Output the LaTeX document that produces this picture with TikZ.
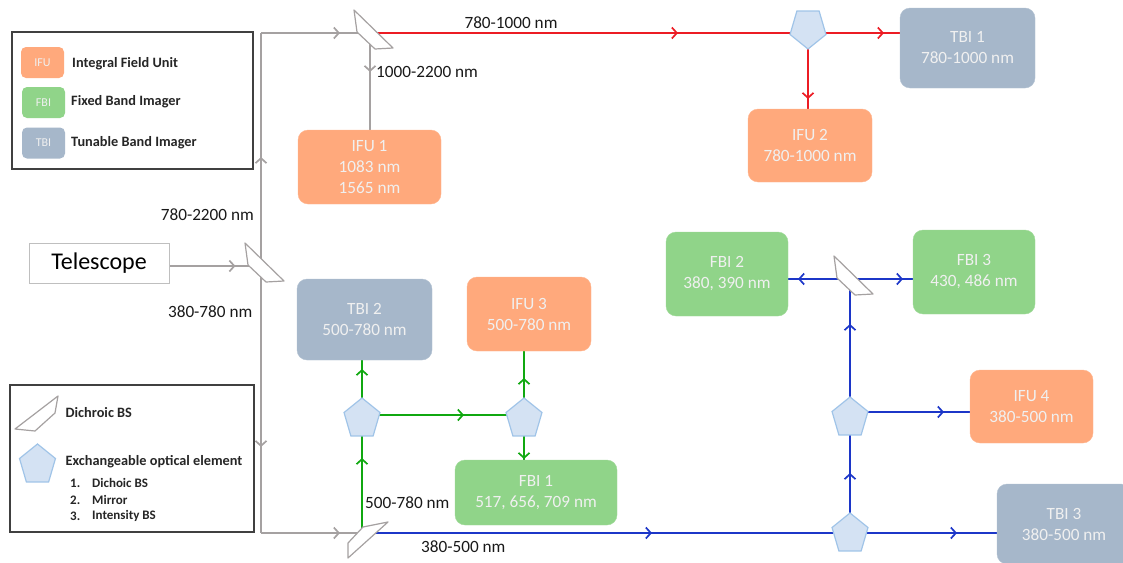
\documentclass[tikz,border=0pt]{standalone}
\usepackage{fontspec}
\setmainfont{Carlito}
\usepackage{xcolor}
\usetikzlibrary{shapes.geometric,arrows.meta,decorations.markings,backgrounds}

\definecolor{ifucol}{HTML}{FFA97C}
\definecolor{fbicol}{HTML}{90D489}
\definecolor{tbicol}{HTML}{A6B7CA}
\definecolor{eoecol}{HTML}{D4E2F3}
\definecolor{eoeline}{HTML}{A0C4E8}
\definecolor{raygray}{HTML}{A5A1A1}
\definecolor{rayred}{HTML}{EC1C24}
\definecolor{raygreen}{HTML}{10A810}
\definecolor{rayblue}{HTML}{1C36C8}
\definecolor{frame}{HTML}{404040}

\begin{document}
\begin{tikzpicture}[
    x=1pt, y=-1pt,
    box/.style={rectangle, rounded corners=10pt, inner sep=0pt, align=center, text=white!94!black,
        font=\fontsize{17.2}{21}\selectfont},
    ifu/.style={box, fill=ifucol, draw=ifucol!85!white},
    fbi/.style={box, fill=fbicol, draw=fbicol!85!white},
    tbi/.style={box, fill=tbicol, draw=tbicol!85!white},
    swatch/.style={rounded corners=5pt, inner sep=0pt, minimum width=43pt, minimum height=31pt,
        text=white!94!black, font=\fontsize{12}{14}\selectfont},
    eoe/.style={regular polygon, regular polygon sides=5, minimum size=42pt, inner sep=0pt,
        xscale=0.9, transform shape, fill=eoecol, draw=eoeline, line width=1.2pt},
    legendbox/.style={rectangle, draw=frame, line width=1.6pt, inner sep=0pt, fill=white},
    legendhead/.style={anchor=west, inner sep=0pt, text=black!85, font=\fontsize{14.3}{16}\bfseries\selectfont},
    legendtext/.style={anchor=west, inner sep=0pt, text=black!85, font=\fontsize{13}{15}\bfseries\selectfont},
    wave/.style={inner sep=0pt, text=black!90, font=\fontsize{17.2}{20}\selectfont},
    bsline/.style={draw=raygray, fill=white, line width=1.2pt, line join=round},
    ray/.style={line width=2pt},
    gray ray/.style={ray, color=raygray, line width=1.8pt},
    red ray/.style={ray, color=rayred},
    green ray/.style={ray, color=raygreen},
    blue ray/.style={ray, color=rayblue},
    tipat/.style={postaction={decorate}, decoration={markings,
        mark=at position #1pt with {\arrow[line width=1.7pt]{Straight Barb[length=5pt,width=11pt]}}}},
    pics/dichroic/.style={code={
        \draw[bsline] (-16,-23) -- (23,15) -- (5,16) -- (-13,-1) -- cycle;}},
]
    \clip (0,0) rectangle (1123,562);
    \useasboundingbox (0,0) rectangle (1123,562);

    % beam junctions
    \coordinate (bst) at (261,266);
    \coordinate (bsa) at (370,33);
    \coordinate (bsb) at (362,533);
    \coordinate (bsu) at (850,279);
    \coordinate (cu) at (261,33);
    \coordinate (cd) at (261,533);
    \coordinate (jr) at (808,33);
    \coordinate (jg1) at (362,415);
    \coordinate (jg2) at (524,415);
    \coordinate (ja) at (850,412);
    \coordinate (jb) at (850,533);

    % instruments
    \node[draw=black!25, line width=1pt, fill=white, minimum width=140pt, minimum height=40pt, inner sep=0pt,
        font=\fontsize{24}{28}\selectfont] (telescope) at (99,263) {\raisebox{-2pt}{Telescope}};
    \node[ifu, minimum width=143pt, minimum height=74pt] (ifu1) at (369.5,167) {IFU 1\\1083 nm\\1565 nm};
    \node[ifu, minimum width=124pt, minimum height=73pt] (ifu2) at (810,145.5) {IFU 2\\780-1000 nm};
    \node[ifu, minimum width=124pt, minimum height=74pt] (ifu3) at (529,314) {IFU 3\\500-780 nm};
    \node[ifu, minimum width=123pt, minimum height=73pt] (ifu4) at (1031.5,406.5) {IFU 4\\380-500 nm};
    \node[fbi, minimum width=162pt, minimum height=65pt] (fbi1) at (536,492.5) {FBI 1\\517, 656, 709 nm};
    \node[fbi, minimum width=122pt, minimum height=84pt] (fbi2) at (727,274) {FBI 2\\380, 390 nm};
    \node[fbi, minimum width=122pt, minimum height=84pt] (fbi3) at (974,272) {FBI 3\\430, 486 nm};
    \node[tbi, minimum width=135pt, minimum height=80pt] (tbi1) at (967.5,48) {TBI 1\\780-1000 nm};
    \node[tbi, minimum width=135pt, minimum height=81pt] (tbi2) at (364.5,319.5) {TBI 2\\500-780 nm};
    \node[tbi, minimum width=134pt, minimum height=80pt] (tbi3) at (1064,524) {TBI 3\\380-500 nm};

    % exchangeable elements
    \node[eoe, shape border rotate=180] (pr) at (808,28) {};
    \node[eoe] (pg1) at (362,419) {};
    \node[eoe] (pg2) at (524,419) {};
    \node[eoe] (pa) at (850,418) {};
    \node[eoe] (pb) at (850,534) {};

    % beams
    \begin{scope}[on background layer]
        \draw[gray ray, tipat=66] (telescope.east |- bst) -- (bst);
        \draw[gray ray, tipat=109] (bst) -- (cu);
        \draw[gray ray, tipat=79] (cu) -- (bsa);
        \draw[gray ray, tipat=181] (bst) -- (cd);
        \draw[gray ray, tipat=79] (cd) -- (bsb);
        \draw[gray ray, tipat=39] (bsa) -- (bsa |- ifu1.north);
        \draw[red ray, tipat=308] (bsa) -- (jr);
        \draw[red ray, tipat=76] (jr) -- (jr -| tbi1.west);
        \draw[red ray, tipat=66] (jr) -- (jr |- ifu2.north);
        \draw[green ray, tipat=75] (bsb) -- (jg1);
        \draw[green ray, tipat=46] (jg1) -- (jg1 |- tbi2.south);
        \draw[green ray, tipat=102] (jg1) -- (jg2);
        \draw[green ray, tipat=37] (jg2) -- (jg2 |- ifu3.south);
        \draw[green ray, tipat=44] (jg2) -- (jg2 |- fbi1.north);
        \draw[blue ray, tipat=290] (bsb) -- (jb);
        \draw[blue ray, tipat=107] (jb) -- (jb -| tbi3.west);
        \draw[blue ray, tipat=60] (jb) -- (ja);
        \draw[blue ray, tipat=94, line width=1.6pt] (ja) -- (ja -| ifu4.west);
        \draw[blue ray, tipat=88] (ja) -- (bsu);
        \draw[blue ray, tipat=52] (bsu) -- (bsu -| fbi2.east);
        \draw[blue ray, tipat=53] (bsu) -- (bsu -| fbi3.west);
    \end{scope}

    % dichroics
    \pic at (bsa) {dichroic};
    \pic at (bst) {dichroic};
    \pic at (bsu) {dichroic};
    \draw[bsline, shift={(bsb)}] (1,-6) -- (26,-11) -- (-14,25) -- (-14,10) -- cycle;

    % wavelength labels
    \node[wave] (w1) at (511,23) {780-1000 nm};
    \node[wave, anchor=west] (w2) at (376,72) {1000-2200 nm};
    \node[wave, anchor=east] (w3) at (254,215) {780-2200 nm};
    \node[wave, anchor=east] (w4) at (252.5,312) {380-780 nm};
    \node[wave, anchor=west] (w5) at (365,503) {500-780 nm};
    \node[wave, anchor=west] (w6) at (421,547) {380-500 nm};

    % top legend
    \node[legendbox, minimum width=241pt, minimum height=137pt] (legendA) at (132.5,100.5) {};
    \node[swatch, fill=ifucol] (swifu) at (42.5,62.5) {IFU};
    \node[swatch, fill=fbicol] (swfbi) at (43.5,102.5) {FBI};
    \node[swatch, fill=tbicol] (swtbi) at (43.5,143) {TBI};
    \node[legendhead] (txifu) at (72,64) {Integral Field Unit};
    \node[legendhead] (txfbi) at (71,102) {Fixed Band Imager};
    \node[legendhead] (txtbi) at (71,143) {Tunable Band Imager};

    % bottom legend
    \node[legendbox, minimum width=244pt, minimum height=147pt] (legendB) at (132,458.5) {};
    \draw[bsline] (58,396) -- (55,413) -- (35,431) -- (15,429) -- cycle;
    \node[eoe] (pleg) at (37.5,465) {};
    \node[legendhead] (txbs) at (65.5,413) {Dichroic BS};
    \node[legendhead] (txeoe) at (65.5,462) {Exchangeable optical element};
    \foreach \n/\t/\y in {1/Dichoic BS/483, 2/Mirror/500, 3/Intensity BS/516} {
        \node[legendtext] (num\n) at (70,\y) {\n.};
        \node[legendtext] (item\n) at (92,\y) {\t};
    }
\end{tikzpicture}
\end{document}
